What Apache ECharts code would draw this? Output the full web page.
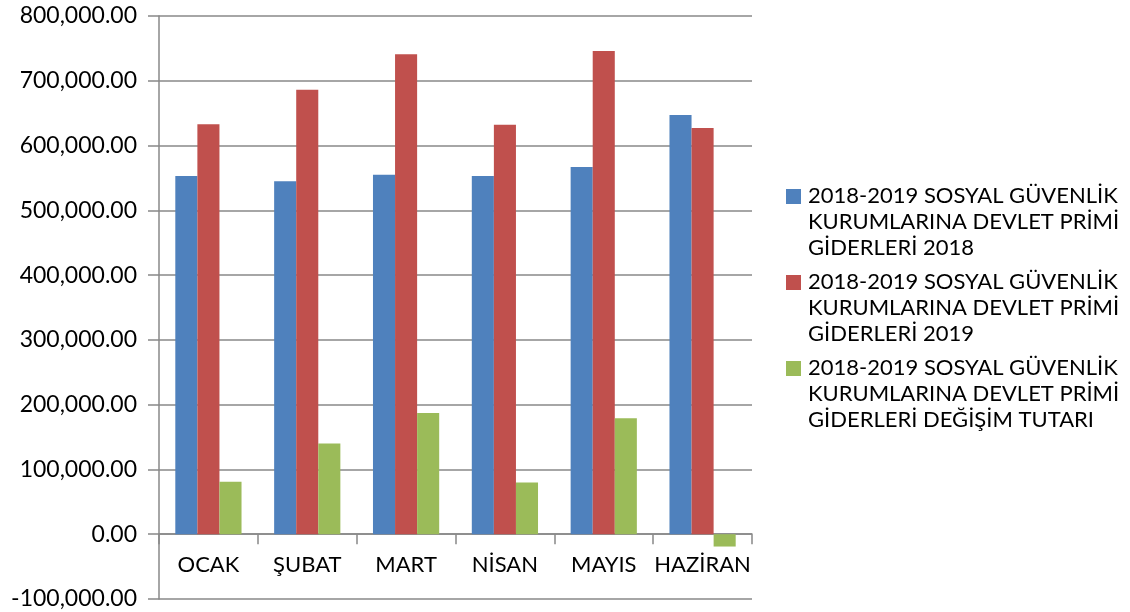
<!DOCTYPE html>
<html>
<head>
<meta charset="utf-8">
<script src="https://cdn.jsdelivr.net/npm/echarts@6/dist/echarts.min.js"></script>
<style>
  html, body { margin: 0; padding: 0; background: #fff; }
  #chart { width: 1130px; height: 612px; }
</style>
</head>
<body>
<div id="chart"></div>
<script>
const months = ['OCAK', 'ŞUBAT', 'MART', 'NİSAN', 'MAYIS', 'HAZİRAN']
const gider2018 = [553000, 545000, 555000, 553000, 567000, 647000]
const gider2019 = [633000, 686000, 741000, 632000, 746000, 627000]
const degisim = [81000, 140000, 187000, 80000, 179000, -19000]
const seriesNames = [
  '2018-2019 SOSYAL GÜVENLİK KURUMLARINA DEVLET PRİMİ GİDERLERİ 2018',
  '2018-2019 SOSYAL GÜVENLİK KURUMLARINA DEVLET PRİMİ GİDERLERİ 2019',
  '2018-2019 SOSYAL GÜVENLİK KURUMLARINA DEVLET PRİMİ GİDERLERİ DEĞİŞİM TUTARI'
]
const colors = ['#4F81BD', '#C0504D', '#9BBB59']

const gridColor = '#888888'
const font = 'Lato, Carlito, sans-serif'

// plot area: 16px top, 13px bottom, y from -100k to 800k
const plotTop = 16
const plotBottom = 13
const plotHeight = 612 - plotTop - plotBottom
const yMin = -100000
const yMax = 800000
// lift the category axis from the bottom edge up to the zero line
const zeroOffset = -plotHeight * (0 - yMin) / (yMax - yMin)

const chart = echarts.init(document.getElementById('chart'))

const wrapName = (name) =>
  name.replace(' KURUMLARINA', '\nKURUMLARINA').replace(' GİDERLERİ', '\nGİDERLERİ')

const option = {
  backgroundColor: '#fff',
  animation: false,
  color: colors,
  grid: { left: 159, right: 378, top: plotTop, bottom: plotBottom, outerBoundsMode: 'none', containLabel: false },
  legend: {
    orient: 'vertical',
    left: 786,
    top: 183,
    padding: 0,
    itemGap: 8,
    itemWidth: 15,
    itemHeight: 66,
    icon: 'path://M0,0H15V15H0Z M0,66L15,66',
    data: seriesNames,
    formatter: wrapName,
    textStyle: { fontFamily: font, fontSize: 22, lineHeight: 26, color: '#000', padding: [0, 0, 0, 2] }
  },
  xAxis: {
    type: 'category',
    data: months,
    offset: zeroOffset,
    axisLine: { onZero: false, lineStyle: { color: gridColor, width: 1.5 } },
    axisTick: { show: true, length: 10, lineStyle: { color: gridColor, width: 1.5 } },
    axisLabel: { show: true, color: '#000', fontFamily: font, fontSize: 22, margin: 20, interval: 0 }
  },
  yAxis: {
    type: 'value',
    min: yMin,
    max: yMax,
    interval: 100000,
    axisLine: { show: true, lineStyle: { color: gridColor, width: 1.5 } },
    axisTick: { show: true, length: 11, lineStyle: { color: gridColor, width: 1.5 } },
    splitLine: { lineStyle: { color: gridColor, width: 1.5 } },
    axisLabel: {
      color: '#000',
      fontFamily: font,
      fontSize: 23,
      margin: 22,
      formatter: (v) => v.toLocaleString('en-US', { minimumFractionDigits: 2, maximumFractionDigits: 2 })
    }
  },
  series: [gider2018, gider2019, degisim].map((d, i) => ({
    name: seriesNames[i],
    type: 'bar',
    data: d,
    barGap: '0%',
    barCategoryGap: '33%',
    itemStyle: { color: colors[i] }
  }))
}

chart.setOption(option)
</script>
</body>
</html>
